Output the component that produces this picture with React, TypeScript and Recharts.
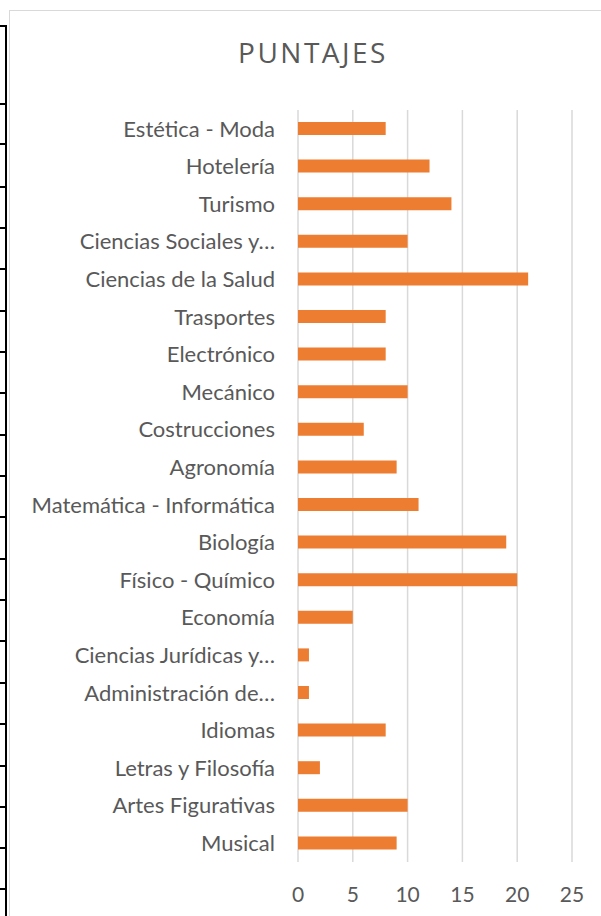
import React from "react";
import { BarChart, Bar, XAxis, YAxis, CartesianGrid } from "recharts";

const categories = [
  "Estética - Moda",
  "Hotelería",
  "Turismo",
  "Ciencias Sociales y…",
  "Ciencias de la Salud",
  "Trasportes",
  "Electrónico",
  "Mecánico",
  "Costrucciones",
  "Agronomía",
  "Matemática - Informática",
  "Biología",
  "Físico - Químico",
  "Economía",
  "Ciencias Jurídicas y…",
  "Administración de…",
  "Idiomas",
  "Letras y Filosofía",
  "Artes Figurativas",
  "Musical",
];
const puntajes = [8, 12, 14, 10, 21, 8, 8, 10, 6, 9, 11, 19, 20, 5, 1, 1, 8, 2, 10, 9];
const xTicks = [0, 5, 10, 15, 20, 25];

const data = categories.map((name, i) => ({ name, puntaje: puntajes[i] }));

const FONT = "Lato, 'Open Sans', sans-serif";
const TEXT = "#595959";

// table borders peeking in on the left side
const rowLines = [25, 103, 143, 186, 227, 268, 310, 351, 392, 434, 475, 516, 558, 599, 640, 682, 723, 765, 806, 847, 888];

export default function App() {
  return (
    <div style={{ position: "absolute", left: 0, top: 0, width: 601, height: 916, overflow: "hidden", background: "#fff" }}>
      <div style={{ position: "absolute", left: 5, top: 25, width: 2, height: 891, background: "#000" }} />
      {rowLines.map((y) => (
        <div key={y} style={{ position: "absolute", left: 0, top: y, width: 7, height: 2, background: "#000" }} />
      ))}
      <div
        style={{
          position: "absolute",
          left: 9,
          top: 10,
          width: 600,
          height: 920,
          border: "1.5px solid #d9d9d9",
          boxSizing: "border-box",
        }}
      />
      <div
        style={{
          position: "absolute",
          left: 2,
          top: 33,
          width: 622,
          textAlign: "center",
          fontFamily: "'Open Sans', sans-serif",
          fontSize: 28,
          letterSpacing: 2.5,
          color: TEXT,
        }}
      >
        PUNTAJES
      </div>
      <div style={{ position: "absolute", left: 0, top: 0 }}>
        <BarChart
          width={601}
          height={916}
          data={data}
          layout="vertical"
          margin={{ top: 110, right: 29, bottom: 24, left: 0 }}
        >
          <CartesianGrid horizontal={false} stroke="#d9d9d9" strokeWidth={1.5} />
          <XAxis
            type="number"
            domain={[0, 25]}
            ticks={xTicks}
            axisLine={false}
            tickLine={false}
            tickMargin={19}
            tick={{ fill: TEXT, fontSize: 21, fontFamily: FONT }}
          />
          <YAxis
            type="category"
            dataKey="name"
            width={298}
            axisLine={false}
            tickLine={false}
            tickSize={0}
            tickMargin={23}
            interval={0}
            tick={{ fill: TEXT, fontSize: 22, fontFamily: FONT }}
          />
          <Bar dataKey="puntaje" fill="#ED7D31" barSize={13} isAnimationActive={false} />
        </BarChart>
      </div>
    </div>
  );
}
